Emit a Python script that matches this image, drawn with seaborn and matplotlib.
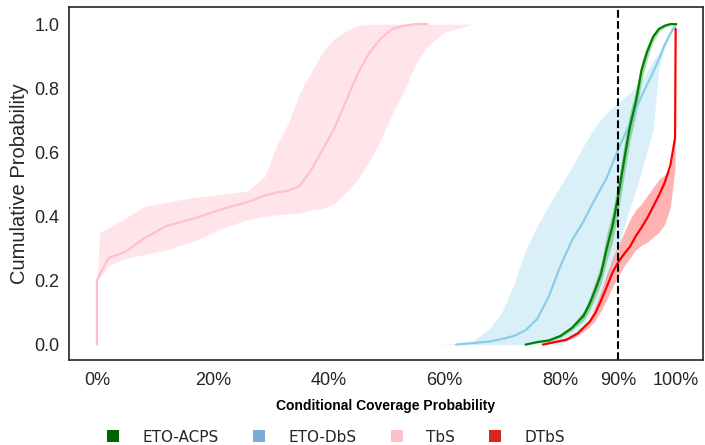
import numpy as np
import matplotlib
matplotlib.use("Agg")
import matplotlib.pyplot as plt
from matplotlib.patches import Patch
import seaborn as sns

# ---- data (coverage on x, cumulative probability on y)
tbs_x = [0.0, 0.0, 0.005, 0.02, 0.05, 0.08, 0.12, 0.17, 0.22, 0.26, 0.29, 0.31, 0.33,
         0.35, 0.37, 0.39, 0.41, 0.43, 0.45, 0.47, 0.49, 0.51, 0.53, 0.55, 0.57, 0.60, 0.65]
tbs_mean = [0.0, 0.20, 0.22, 0.27, 0.29, 0.33, 0.37, 0.395, 0.425, 0.445, 0.465, 0.475, 0.48,
            0.495, 0.545, 0.61, 0.675, 0.76, 0.845, 0.91, 0.955, 0.985, 0.995, 1.0, 1.0,
            np.nan, np.nan]
tbs_low = [0.0, 0.20, 0.21, 0.245, 0.27, 0.28, 0.295, 0.325, 0.365, 0.39, 0.40, 0.405, 0.408,
           0.41, 0.42, 0.425, 0.44, 0.475, 0.515, 0.57, 0.64, 0.72, 0.79, 0.875, 0.93, 0.975, 1.0]
tbs_high = [0.0, 0.20, 0.35, 0.365, 0.395, 0.43, 0.445, 0.46, 0.47, 0.48, 0.525, 0.62, 0.69,
            0.785, 0.85, 0.915, 0.955, 0.98, 0.995, 1.0, 1.0, 1.0, 1.0, 1.0, 1.0, 1.0, 1.0]

dbs_x = [0.59, 0.62, 0.65, 0.68, 0.70, 0.72, 0.74, 0.76, 0.78, 0.80, 0.82, 0.84, 0.86,
         0.88, 0.90, 0.92, 0.94, 0.96, 0.97, 0.98, 0.99, 1.0]
dbs_mean = [np.nan, 0.0, 0.005, 0.01, 0.018, 0.027, 0.045, 0.08, 0.15, 0.245, 0.325, 0.385,
            0.455, 0.52, 0.61, 0.69, 0.775, 0.85, 0.89, 0.935, 0.97, 1.0]
dbs_low = [0.0, 0.0, 0.0, 0.0, 0.0, 0.0, 0.0, 0.0, 0.0, 0.0, 0.02, 0.06, 0.12,
           0.2, 0.31, 0.425, 0.54, 0.67, 0.86, 0.93, 0.97, 1.0]
dbs_high = [0.0, 0.003, 0.012, 0.055, 0.105, 0.19, 0.295, 0.37, 0.435, 0.495, 0.555, 0.62,
            0.68, 0.725, 0.755, 0.785, 0.825, 0.885, 0.91, 0.945, 0.985, 1.0]

acps_x = [0.74, 0.76, 0.78, 0.80, 0.82, 0.84, 0.85, 0.86, 0.87, 0.88, 0.89, 0.90, 0.91,
          0.92, 0.93, 0.94, 0.95, 0.96, 0.97, 0.98, 0.99, 1.0]
acps_mean = [0.0, 0.008, 0.013, 0.027, 0.052, 0.09, 0.125, 0.17, 0.22, 0.30, 0.37, 0.465,
             0.575, 0.68, 0.755, 0.855, 0.915, 0.96, 0.985, 0.995, 1.0, 1.0]
acps_low = [0.0, 0.006, 0.01, 0.022, 0.045, 0.075, 0.105, 0.145, 0.19, 0.26, 0.32, 0.415,
            0.525, 0.635, 0.715, 0.82, 0.89, 0.945, 0.975, 0.99, 0.998, 1.0]
acps_high = [0.0, 0.01, 0.016, 0.032, 0.06, 0.105, 0.145, 0.195, 0.25, 0.345, 0.415, 0.515,
             0.625, 0.725, 0.79, 0.885, 0.935, 0.97, 0.99, 0.998, 1.0, 1.0]

dtbs_x = [0.77, 0.79, 0.81, 0.83, 0.85, 0.86, 0.87, 0.88, 0.89, 0.90, 0.91, 0.92, 0.93,
          0.94, 0.95, 0.96, 0.97, 0.98, 0.99, 0.998, 0.999]
dtbs_mean = [0.0, 0.008, 0.015, 0.035, 0.07, 0.097, 0.137, 0.18, 0.225, 0.258, 0.283, 0.305,
             0.338, 0.365, 0.395, 0.43, 0.465, 0.505, 0.56, 0.645, 0.985]
dtbs_low = [0.0, 0.006, 0.012, 0.027, 0.055, 0.075, 0.105, 0.14, 0.18, 0.215, 0.245, 0.27,
            0.295, 0.31, 0.32, 0.335, 0.35, 0.375, 0.43, 0.55, 0.985]
dtbs_high = [0.0, 0.01, 0.02, 0.04, 0.08, 0.12, 0.165, 0.22, 0.27, 0.31, 0.35, 0.39, 0.42,
             0.44, 0.465, 0.49, 0.515, 0.53, 0.545, 0.645, 0.985]

labels = ["ETO-ACPS", "ETO-DbS", "TbS", "DTbS"]
legend_colors = ["#006400", "#7BAAD2", "#FFC0CB", "#D62728"]
xticks = [0, 0.2, 0.4, 0.6, 0.8, 0.9, 1.0]
xticklabels = ["0%", "20%", "40%", "60%", "80%", "90%", "100%"]

sns.set_style("white")
plt.rcParams["font.family"] = ["Liberation Sans", "DejaVu Sans"]

fig = plt.figure(figsize=(7.05, 4.45), dpi=100)
ax = fig.add_axes([0.098, 0.191, 0.899, 0.793])

series = [
    (tbs_x, tbs_mean, tbs_low, tbs_high, "pink", 0.4),
    (dbs_x, dbs_mean, dbs_low, dbs_high, "skyblue", 0.3),
    (acps_x, acps_mean, acps_low, acps_high, "green", 0.3),
    (dtbs_x, dtbs_mean, dtbs_low, dtbs_high, "red", 0.3),
]
for x, m, lo, hi, c, a in series:
    ax.fill_between(x, lo, hi, color=c, alpha=a, linewidth=0)
    sns.lineplot(x=x, y=m, ax=ax, color=c, linewidth=1.6, estimator=None, sort=False)

ax.axvline(0.9, color="black", linestyle="--", linewidth=1.5)

ax.set_xlim(-0.048, 1.046)
ax.set_ylim(-0.048, 1.053)
ax.set_xticks(xticks)
ax.set_xticklabels(xticklabels)
ax.set_yticks([0, 0.2, 0.4, 0.6, 0.8, 1.0])
ax.tick_params(labelsize=13, colors="#262626")
ax.tick_params(axis="x", pad=5)
ax.set_xlabel("Conditional Coverage Probability", fontsize=10, fontweight="bold",
              color="black", labelpad=7)
ax.set_ylabel("Cumulative Probability", fontsize=14.5, color="#262626")
for s in ax.spines.values():
    s.set_color("#262626")
    s.set_linewidth(1.2)

handles = [Patch(facecolor=c, edgecolor="none") for c in legend_colors]
fig.legend(handles, labels, loc="center", bbox_to_anchor=(336 / 705, 1 - 437 / 445),
           ncol=4, frameon=False, handlelength=0.8, handleheight=0.8,
           handletextpad=1.5, columnspacing=2.25,
           prop={"family": "DejaVu Sans", "size": 11})

fig.savefig("out.png", dpi=100)
